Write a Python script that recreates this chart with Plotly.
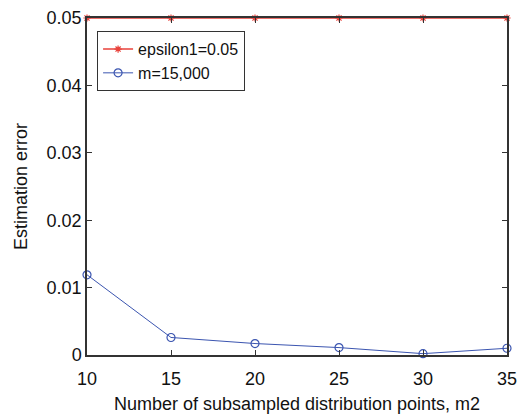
import plotly.graph_objects as go

m2 = [10, 15, 20, 25, 30, 35]
epsilon1 = [0.05, 0.05, 0.05, 0.05, 0.05, 0.05]
m15000 = [0.0119, 0.0026, 0.0017, 0.0011, 0.0002, 0.0010]
y_ticks = [0, 0.01, 0.02, 0.03, 0.04, 0.05]
y_labels = ["0", "0.01", "0.02", "0.03", "0.04", "0.05"]
x_ticks = [10, 15, 20, 25, 30, 35]

fig = go.Figure()
fig.add_trace(go.Scatter(x=m2, y=epsilon1, mode="lines+markers", name="epsilon1=0.05",
                         line=dict(color="#e8413a", width=1.5),
                         marker=dict(symbol="asterisk", size=6, color="#e8413a",
                                     line=dict(color="#e8413a", width=1.2)),
                         cliponaxis=False))
fig.add_trace(go.Scatter(x=m2, y=m15000, mode="lines+markers", name="m=15,000",
                         line=dict(color="#3b55b0", width=1),
                         marker=dict(symbol="circle-open", size=8, color="#3b55b0",
                                     line=dict(color="#3b55b0", width=1.2)),
                         cliponaxis=False))

axis_common = dict(showgrid=False, zeroline=False, showline=True, linecolor="#333333",
                   linewidth=1.5, mirror="ticks", ticks="inside", ticklen=5,
                   tickcolor="#333333", tickfont=dict(size=18, color="#111111"),
                   automargin=False)

fig.update_layout(
    width=525, height=417,
    margin=dict(l=87, r=18, t=18, b=62),
    paper_bgcolor="white", plot_bgcolor="white",
    font=dict(family="Liberation Sans, Arial, sans-serif", color="#111111"),
    xaxis=dict(range=[10, 35], tickvals=x_ticks, ticklabelstandoff=7,
               title=dict(text="Number of subsampled distribution points, m2",
                          font=dict(size=18), standoff=9), **axis_common),
    yaxis=dict(range=[0, 0.05], tickvals=y_ticks, ticktext=y_labels,
               title=dict(text="Estimation error", font=dict(size=18), standoff=14),
               **axis_common),
    legend=dict(x=0.024, y=0.961, xanchor="left", yanchor="top",
                bordercolor="#333333", borderwidth=1, bgcolor="white",
                font=dict(size=16), tracegroupgap=0),
    showlegend=True,
)
fig.write_html("out.html")
